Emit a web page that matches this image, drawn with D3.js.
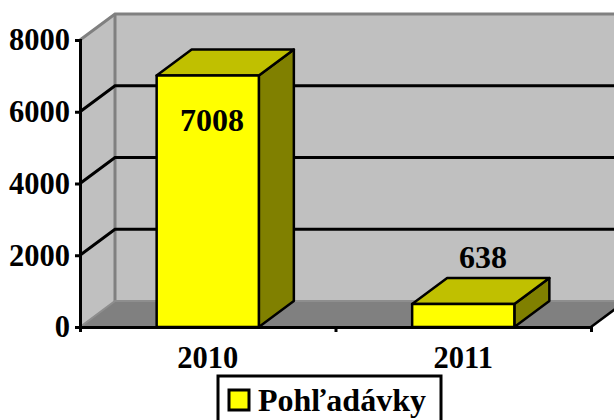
<!DOCTYPE html>
<html>
<head>
<meta charset="utf-8">
<script src="https://cdn.jsdelivr.net/npm/d3@7"></script>
<style>
html, body { margin: 0; padding: 0; background: #fff; overflow: hidden; }
svg { display: block; }
text { font-family: "Liberation Serif", serif; font-weight: bold; fill: #000; }
</style>
</head>
<body>
<svg></svg>
<script>
//Chart data
let categories = ['2010', '2011']
let values = [7008, 638]
let yTicks = [0, 2000, 4000, 6000, 8000]
let seriesName = 'Pohľadávky'

//Canvas size
let width = 614
let height = 420

//3D offset of the back wall
let depthX = 35
let depthY = -26

let svg = d3.select('svg')
    .attr('width', width)
    .attr('height', height)

let yScale = d3.scaleLinear().domain([0, 8000]).range([327, 40])
let xScale = d3.scaleBand().domain(categories).range([80, 591]).paddingInner(0.6).paddingOuter(0.3)

let poly = (points, fill, stroke, sw) => {
    return svg.append('polygon')
        .attr('points', points.map(p => p.join(',')).join(' '))
        .attr('fill', fill)
        .attr('stroke', stroke || 'none')
        .attr('stroke-width', sw || 0)
        .attr('stroke-linejoin', 'round')
}

let x0 = xScale.range()[0]
let x1 = xScale.range()[1]
let yBase = yScale(0)
let yTop = yScale(8000)

//Walls and floor
poly([[x0 + depthX, yBase + depthY], [x1 + depthX, yBase + depthY], [x1 + depthX, yTop + depthY], [x0 + depthX, yTop + depthY]], '#c0c0c0')
poly([[x0, yBase], [x0 + depthX, yBase + depthY], [x0 + depthX, yTop + depthY], [x0, yTop]], '#c0c0c0')
poly([[x0, yBase], [x1, yBase], [x1 + depthX, yBase + depthY], [x0 + depthX, yBase + depthY]], '#808080')

//Wall edges
svg.append('polyline')
    .attr('points', [[x0, yTop], [x0 + depthX, yTop + depthY], [width + 20, yTop + depthY]].map(p => p.join(',')).join(' '))
    .attr('fill', 'none').attr('stroke', '#808080').attr('stroke-width', 3)
svg.append('line')
    .attr('x1', x0 + depthX).attr('x2', x0 + depthX)
    .attr('y1', yTop + depthY).attr('y2', yBase + depthY)
    .attr('stroke', '#808080').attr('stroke-width', 3)
svg.append('polyline')
    .attr('points', [[x0, yBase], [x0 + depthX, yBase + depthY], [width + 20, yBase + depthY]].map(p => p.join(',')).join(' '))
    .attr('fill', 'none').attr('stroke', '#8e8e8e').attr('stroke-width', 2)

//Gridlines
yTicks.filter(d => d > 0 && d < 8000).forEach(d => {
    svg.append('polyline')
        .attr('points', [[x0, yScale(d)], [x0 + depthX, yScale(d) + depthY], [x1 + depthX, yScale(d) + depthY]].map(p => p.join(',')).join(' '))
        .attr('fill', 'none').attr('stroke', '#000').attr('stroke-width', 3)
})

//Floor right edge
svg.append('line')
    .attr('x1', x1).attr('y1', yBase).attr('x2', x1 + depthX).attr('y2', yBase + depthY)
    .attr('stroke', '#000').attr('stroke-width', 2.5)

//Bars
categories.forEach((c, i) => {
    let x = xScale(c)
    let w = xScale.bandwidth()
    let y = yScale(values[i])
    poly([[x + w, yBase], [x + w + depthX, yBase + depthY], [x + w + depthX, y + depthY], [x + w, y]], '#808000', '#000', 2.5)
    poly([[x, y], [x + w, y], [x + w + depthX, y + depthY], [x + depthX, y + depthY]], '#c0c000', '#000', 2.5)
    poly([[x, yBase], [x + w, yBase], [x + w, y], [x, y]], '#ffff00', '#000', 2.5)
})

//Axes
let yAxis = d3.axisLeft(yScale).tickValues(yTicks).tickSize(5).tickPadding(5).tickFormat(d3.format('d'))
let gy = svg.append('g').attr('transform', 'translate(' + x0 + ',0)').call(yAxis)
let xTickScale = d3.scaleLinear().domain([0, 2]).range([x0, x1])
let xAxis = d3.axisBottom(xTickScale).tickValues([0, 1, 2]).tickSize(5).tickFormat('')
let gx = svg.append('g').attr('transform', 'translate(0,' + yBase + ')').call(xAxis)
svg.selectAll('.domain').attr('stroke', '#000').attr('stroke-width', 3)
svg.selectAll('.tick line').attr('stroke', '#000').attr('stroke-width', 3)
gy.selectAll('text').attr('font-size', 30.5).attr('font-family', '"Liberation Serif", serif').attr('fill', '#000')

//Category labels
svg.selectAll('.cat').data(categories).enter().append('text')
    .attr('class', 'cat')
    .attr('x', d => xScale(d) + xScale.bandwidth() / 2)
    .attr('y', 368)
    .attr('text-anchor', 'middle')
    .attr('font-size', 30.5)
    .text(d => d)

//Value labels
svg.selectAll('.val').data(values).enter().append('text')
    .attr('class', 'val')
    .attr('x', (d, i) => i === 0 ? 212 : 483)
    .attr('y', (d, i) => i === 0 ? 131 : 268)
    .attr('text-anchor', 'middle')
    .attr('font-size', 32)
    .text(d => d)

//Legend
svg.append('rect').attr('x', 218).attr('y', 376).attr('width', 223).attr('height', 60)
    .attr('fill', '#fff').attr('stroke', '#000').attr('stroke-width', 3)
svg.append('rect').attr('x', 229).attr('y', 390).attr('width', 20).attr('height', 20)
    .attr('fill', '#ffff00').attr('stroke', '#000').attr('stroke-width', 3)
svg.append('text').attr('x', 258).attr('y', 411).attr('font-size', 32).text(seriesName)
</script>
</body>
</html>
